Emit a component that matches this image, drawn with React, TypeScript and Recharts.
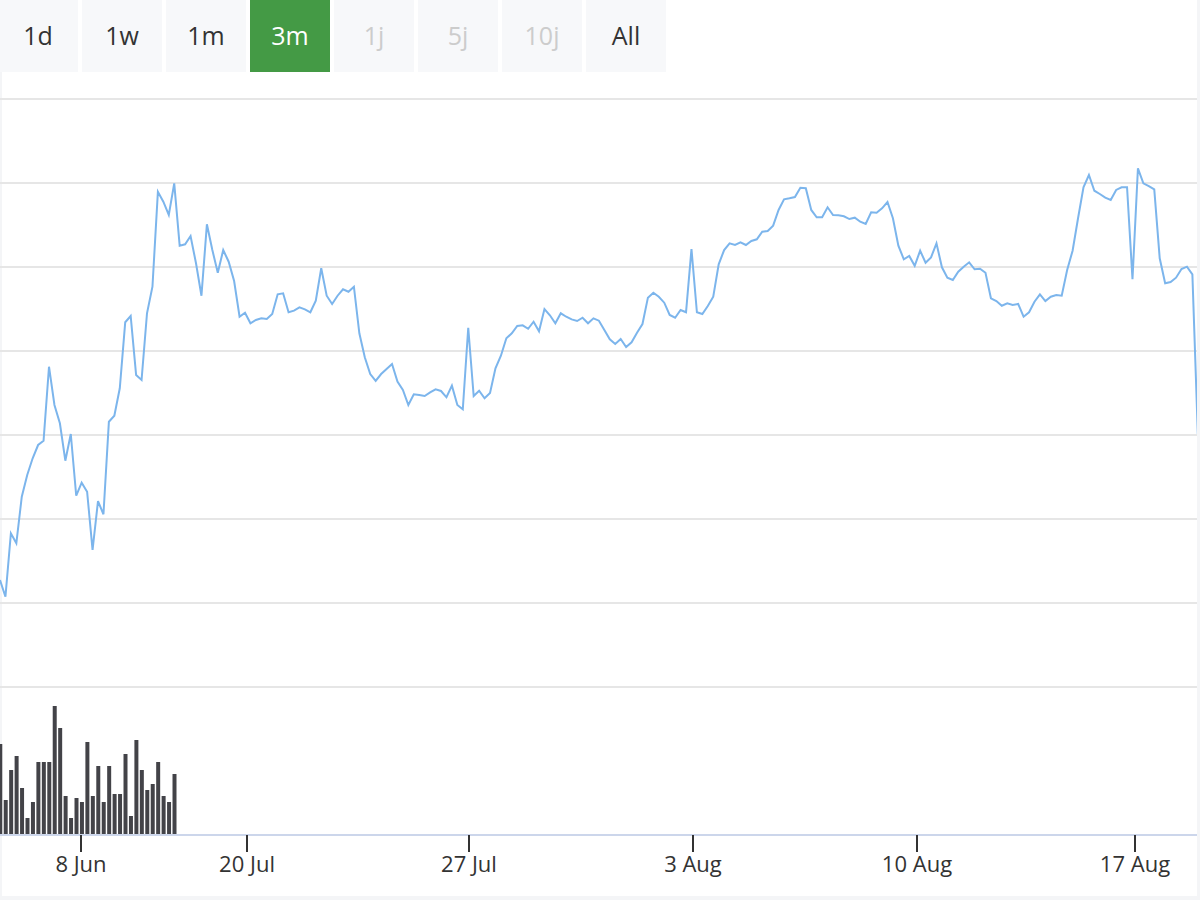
import React from 'react';
import { ComposedChart, Line, Bar, XAxis, YAxis, CartesianGrid } from 'recharts';

// Price series (one value per period), in chart units
const PRICE: number[] = [
  12.74, 10.75, 18.3, 17.11, 22.65, 25.24, 27.23, 28.81, 29.32, 38.13,
  33.57, 31.39, 26.94, 30.12, 22.77, 24.32, 23.25, 16.31, 22.14, 20.56,
  31.58, 32.3, 35.56, 43.42, 44.17, 37.14, 36.55, 44.49, 47.65, 58.96,
  57.77, 56.19, 59.96, 52.54, 52.7, 53.69, 50.44, 46.58, 55.08, 52.02,
  49.32, 52.02, 50.63, 48.33, 44.08, 44.56, 43.3, 43.69, 43.89, 43.81,
  44.4, 46.75, 46.87, 44.61, 44.8, 45.2, 44.96, 44.61, 45.99, 49.85,
  46.58, 45.6, 46.58, 47.35, 47.06, 47.65, 42.11, 39.25, 37.26, 36.43,
  37.26, 37.86, 38.45, 36.35, 35.36, 33.57, 34.85, 34.76, 34.64, 35.08,
  35.44, 35.24, 34.49, 35.87, 33.57, 33.06, 42.77, 34.64, 35.27, 34.37,
  35.0, 37.94, 39.44, 41.51, 42.11, 42.98, 43.06, 42.65, 43.49, 42.35,
  45.0, 44.25, 43.3, 44.49, 44.08, 43.77, 43.57, 43.96, 43.3, 43.89,
  43.61, 42.5, 41.39, 40.83, 41.43, 40.48, 41.04, 42.18, 43.21, 46.35,
  46.94, 46.46, 45.75, 44.29, 43.96, 44.88, 44.61, 52.14, 44.61, 44.4,
  45.36, 46.46, 50.32, 52.02, 52.82, 52.62, 52.94, 52.62, 53.1, 53.3,
  54.2, 54.29, 54.92, 56.79, 58.06, 58.18, 58.33, 59.44, 59.37, 56.79,
  55.92, 55.92, 57.11, 56.19, 56.15, 56.04, 55.71, 55.87, 55.39, 55.12,
  56.51, 56.46, 56.99, 57.74, 55.8, 52.54, 50.92, 51.31, 50.15, 51.94,
  50.51, 51.15, 52.82, 49.96, 48.73, 48.45, 49.44, 50.04, 50.56, 49.73,
  49.8, 49.32, 46.27, 45.95, 45.39, 45.68, 45.48, 45.6, 44.08, 44.61,
  45.87, 46.75, 45.95, 46.46, 46.67, 46.58, 49.64, 51.94, 55.8, 59.49,
  60.95, 59.08, 58.69, 58.25, 57.98, 59.17, 59.49, 59.49, 48.54, 61.75,
  59.96, 59.64, 59.25, 51.04, 48.06, 48.21, 48.73, 49.76, 50.04, 49.13,
  30.12,
];

// Volume (only available for the first periods)
const VOLUME: number[] = [
  91, 35, 65, 79, 47, 17, 33, 73, 73, 73,
  129, 107, 39, 17, 37, 33, 93, 39, 69, 33,
  69, 41, 41, 81, 19, 95, 65, 45, 51, 73,
  39, 33, 61,
];

const TICK_LABELS: string[] = ['8 Jun', '20 Jul', '27 Jul', '3 Aug', '10 Aug', '17 Aug'];
const TICK_INDEX: number[] = [14.88, 45.37, 86.14, 127.28, 168.42, 208.46];
const PRICE_TICKS: number[] = [0, 10, 20, 30, 40, 50, 60, 70];

const RANGE_BUTTONS: string[] = ['1d', '1w', '1m', '3m', '1j', '5j', '10j', 'All'];
const SELECTED = '3m';
const DISABLED: string[] = ['1j', '5j', '10j'];

const data = PRICE.map((p, i) => ({ i, price: p, volume: i < VOLUME.length ? VOLUME[i] : null }));

const FONT = '"Open Sans", "Noto Sans", sans-serif';
const FRAME = '#f4f5f7';

export default function App() {
  return (
    <div style={{ position: 'absolute', left: 0, top: 0, width: 1200, height: 900, background: '#ffffff', overflow: 'hidden', fontFamily: FONT }}>
      {/* frame (left strip sits behind the plot) */}
      <div style={{ position: 'absolute', left: 0, top: 72, width: 2, height: 828, background: FRAME }} />
      <div style={{ position: 'absolute', left: 0, top: 0, width: 1200, height: 900 }}>
        <ComposedChart width={1200} height={900} data={data} margin={{ top: 99, right: 0, bottom: 35, left: 0 }}>
          <CartesianGrid yAxisId="price" vertical={false} stroke="#e6e6e6" strokeWidth={2} />
          <XAxis
            dataKey="i"
            type="number"
            domain={[0, 220.4]}
            allowDataOverflow
            ticks={TICK_INDEX}
            interval={0}
            height={30}
            tickSize={17}
            tickMargin={4}
            tickFormatter={(v: number) => {
              const k = TICK_INDEX.indexOf(v);
              return k >= 0 ? TICK_LABELS[k] : '';
            }}
            axisLine={{ stroke: '#ccd6eb', strokeWidth: 2 }}
            tickLine={{ stroke: '#333333', strokeWidth: 2 }}
            tick={{ fill: '#333333', fontSize: 22, fontFamily: FONT }}
          />
          <YAxis yAxisId="price" hide domain={[-17.619, 70]} ticks={PRICE_TICKS} allowDataOverflow />
          <YAxis yAxisId="vol" hide domain={[0, 736]} allowDataOverflow />
          <Bar yAxisId="vol" dataKey="volume" fill="#434348" barSize={4} isAnimationActive={false} />
          <Line
            yAxisId="price"
            dataKey="price"
            type="linear"
            stroke="#7cb5ec"
            strokeWidth={2}
            dot={false}
            activeDot={false}
            isAnimationActive={false}
          />
        </ComposedChart>
      </div>
      {/* range selector buttons */}
      <div style={{ position: 'absolute', left: -2, top: 0, display: 'flex', gap: 4 }}>
        {RANGE_BUTTONS.map((b) => {
          const sel = b === SELECTED;
          const dis = DISABLED.includes(b);
          return (
            <div
              key={b}
              style={{
                width: 80,
                height: 72,
                background: sel ? '#449a45' : '#f7f8fa',
                color: sel ? '#ffffff' : dis ? '#cccccc' : '#333333',
                fontSize: 25,
                fontFamily: FONT,
                display: 'flex',
                alignItems: 'center',
                justifyContent: 'center',
                paddingBottom: 2,
                boxSizing: 'border-box',
              }}
            >
              {b}
            </div>
          );
        })}
      </div>
      <div style={{ position: 'absolute', left: 1197, top: 0, width: 3, height: 900, background: FRAME }} />
      <div style={{ position: 'absolute', left: 0, top: 896, width: 1200, height: 4, background: FRAME }} />
    </div>
  );
}
